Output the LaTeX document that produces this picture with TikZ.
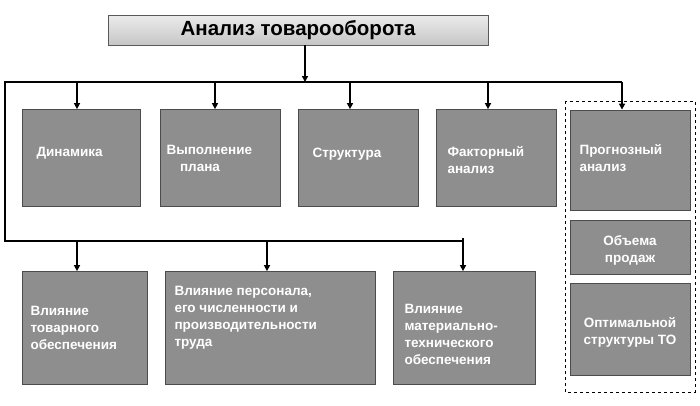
\documentclass[tikz,border=0pt]{standalone}
\usepackage{fontspec}
\setmainfont{Liberation Sans}
\usetikzlibrary{arrows.meta}
\definecolor{boxgray}{HTML}{8E8E8E}
\tikzset{
 gbox/.style={draw=gray!60!black,fill=boxgray,line width=0.8pt},
 lbl/.style={text=white,font=\bfseries\fontsize{13.5}{17}\selectfont,align=left,anchor=west},
 ln/.style={line width=1.6pt},
 arr/.style={line width=1.6pt,-{Triangle[length=6pt,width=6pt]}}
}
\begin{document}
\begin{tikzpicture}[x=1pt,y=-1pt]
\useasboundingbox (0,0) rectangle (700,405);
\node[draw=gray!70!black,line width=0.8pt,top color=gray!15,bottom color=gray!45,minimum width=380pt,minimum height=30pt,font=\bfseries\fontsize{20.5}{22}\selectfont] (title) at (298,30) {Анализ товарооборота};
% top boxes
\node[gbox,minimum width=118pt,minimum height=97pt] (b1) at (81,158) {};
\node[gbox,minimum width=120pt,minimum height=97pt] (b2) at (220,158) {};
\node[gbox,minimum width=120pt,minimum height=97pt] (b3) at (358,158) {};
\node[gbox,minimum width=120pt,minimum height=97pt] (b4) at (496,158) {};
\node[gbox,minimum width=120pt,minimum height=100pt] (b5) at (630,160) {};
\node[lbl] at (33,153) {Динамика};
\node[lbl] at (163,158) {Выполнение\\ \quad плана};
\node[lbl] at (309,154) {Структура};
\node[lbl] at (444,160) {Факторный\\ анализ};
\node[lbl] at (576,158) {Прогнозный\\ анализ};
\node[gbox,minimum width=120pt,minimum height=54pt] (b6) at (630,247) {};
\node[lbl,align=center,anchor=center] at (630,250) {Объема\\продаж};
\node[gbox,minimum width=120pt,minimum height=92pt] (b7) at (630,329) {};
\node[lbl,align=center,anchor=center] at (630,332) {Оптимальной\\структуры ТО};
% bottom boxes
\node[gbox,minimum width=125pt,minimum height=113pt] (c1) at (85,328) {};
\node[gbox,minimum width=210pt,minimum height=113pt] (c2) at (270,328) {};
\node[gbox,minimum width=142pt,minimum height=113pt] (c3) at (464,328) {};
\node[lbl] at (27,328) {Влияние\\товарного\\обеспечения};
\node[lbl] at (171,318) {Влияние персонала,\\его численности и\\производительности\\труда};
\node[lbl] at (401,334) {Влияние\\материально-\\технического\\обеспечения};
\draw[dashed,line width=0.8pt] (565,101) rectangle (695,392);
% connectors
\coordinate (j) at (305,82);
\draw[arr] (title.south -| j) -- (j);
\draw[ln] (5,82) -- (622,82);
\draw[ln] (5,81) -- (5,241) -- (463,241) -- (463,238);
\foreach \b/\x in {b1/77,b2/215,b3/350,b4/488,b5/622}
  \draw[arr] (\x,82) -- (\x,0 |- \b.north);
\foreach \b/\x in {c1/77,c2/267,c3/463}
  \draw[arr] (\x,241) -- (\x,0 |- \b.north);
\end{tikzpicture}
\end{document}
